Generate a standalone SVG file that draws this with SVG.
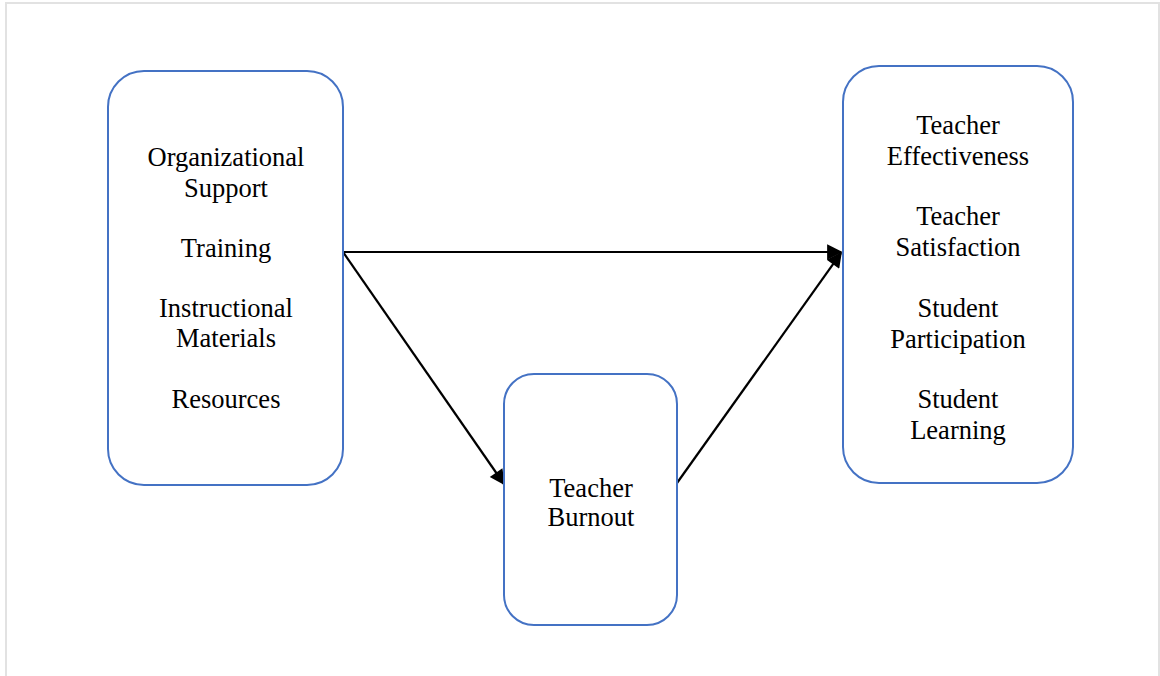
<svg xmlns="http://www.w3.org/2000/svg" width="1160" height="676" viewBox="0 0 1160 676">
  <style>
    .box { fill: #ffffff; stroke: #4472c4; stroke-width: 2; }
    .lbl { font-family: "Liberation Serif", "Times New Roman", serif; font-size: 26.5px; fill: #000000; text-anchor: middle; }
    .edge { stroke: #000000; stroke-width: 2.2; fill: none; marker-end: url(#arrow); }
    .frame { stroke: #e2e2e2; stroke-width: 2; fill: none; }
  </style>
  <defs>
    <marker id="arrow" viewBox="0 0 10 10" refX="9" refY="5" markerWidth="8" markerHeight="7" orient="auto" markerUnits="strokeWidth">
      <path d="M0,0 L10,5 L0,10 z" fill="#000000"/>
    </marker>
  </defs>
  <rect width="1160" height="676" fill="#ffffff"/>
  <!-- page frame -->
  <path class="frame" d="M6,680 L6,3 L1159,3 L1159,680"/>

  <g id="connectors">
    <line class="edge" x1="343" y1="252" x2="841" y2="252"/>
    <line class="edge" x1="343" y1="252" x2="504" y2="484"/>
    <line class="edge" x1="677" y1="483" x2="841" y2="253"/>
  </g>

  <g id="antecedents">
    <rect class="box" x="108" y="71" width="235" height="414" rx="36" ry="36"/>
    <text class="lbl" x="226" y="166">Organizational</text>
    <text class="lbl" x="226" y="197">Support</text>
    <text class="lbl" x="226" y="257">Training</text>
    <text class="lbl" x="226" y="317">Instructional</text>
    <text class="lbl" x="226" y="347">Materials</text>
    <text class="lbl" x="226" y="408">Resources</text>
  </g>

  <g id="burnout">
    <rect class="box" x="504" y="374" width="173" height="251" rx="30" ry="30"/>
    <text class="lbl" x="591" y="497">Teacher</text>
    <text class="lbl" x="591" y="526">Burnout</text>
  </g>

  <g id="outcomes">
    <rect class="box" x="843" y="66" width="230" height="417" rx="36" ry="36"/>
    <text class="lbl" x="958" y="134">Teacher</text>
    <text class="lbl" x="958" y="165">Effectiveness</text>
    <text class="lbl" x="958" y="225">Teacher</text>
    <text class="lbl" x="958" y="256">Satisfaction</text>
    <text class="lbl" x="958" y="317">Student</text>
    <text class="lbl" x="958" y="348">Participation</text>
    <text class="lbl" x="958" y="408">Student</text>
    <text class="lbl" x="958" y="439">Learning</text>
  </g>
</svg>
